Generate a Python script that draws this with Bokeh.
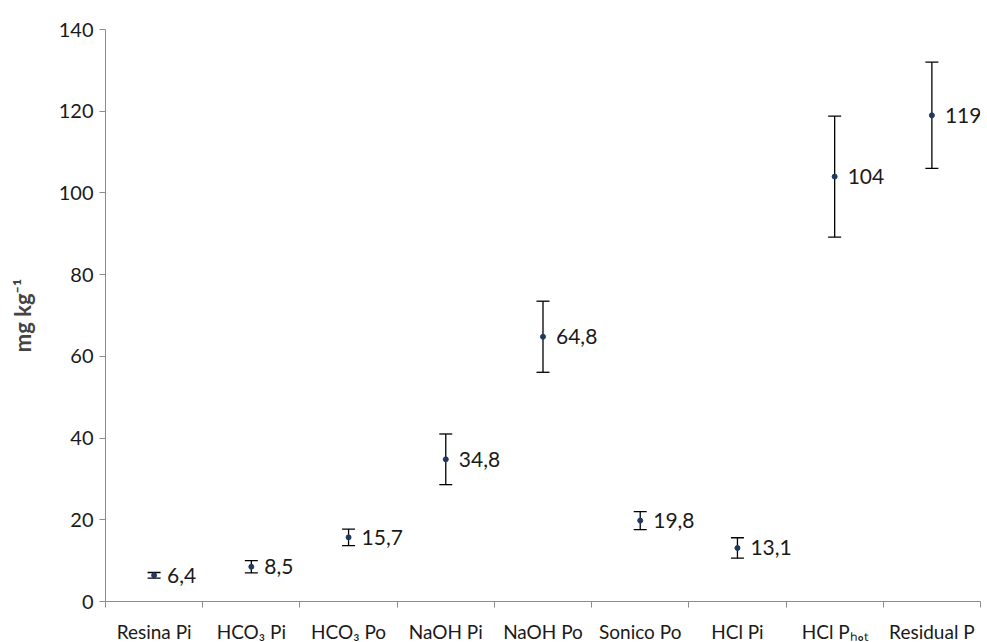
from bokeh.plotting import figure
from bokeh.models import ColumnDataSource, Whisker, TeeHead, LabelSet, FixedTicker, Range1d
from bokeh.core.properties import value
from bokeh.embed import file_html
from bokeh.resources import INLINE

categories = ["Resina Pi", "HCO\u2083 Pi", "HCO\u2083 Po", "NaOH Pi", "NaOH Po",
              "Sonico Po", "HCl Pi", "HCl P\u2095\u2092\u209c", "Residual P"]
means = [6.4, 8.5, 15.7, 34.8, 64.8, 19.8, 13.1, 104, 119]
errors = [0.7, 1.5, 2.0, 6.2, 8.7, 2.2, 2.5, 14.8, 13.0]
value_labels = ["6,4", "8,5", "15,7", "34,8", "64,8", "19,8", "13,1", "104", "119"]
y_ticks = [0, 20, 40, 60, 80, 100, 120, 140]

FONT = "Lato"

xs = [i + 0.5 for i in range(len(categories))]
src = ColumnDataSource(dict(
    x=xs, y=means,
    upper=[m + e for m, e in zip(means, errors)],
    lower=[m - e for m, e in zip(means, errors)],
    lab=value_labels,
))

p = figure(width=982, height=640, frame_width=875, frame_height=572,
           output_backend="svg", toolbar_location=None,
           x_range=Range1d(0, len(categories)), y_range=Range1d(0, 140),
           min_border_left=105, min_border_top=29, min_border_right=2, min_border_bottom=39)
p.outline_line_color = None
p.grid.visible = False
p.background_fill_color = "white"
p.border_fill_color = "white"

w = Whisker(source=src, base="x", upper="upper", lower="lower", dimension="height",
            line_color="black", line_width=1.3,
            upper_head=TeeHead(size=13, line_color="black", line_width=1.3),
            lower_head=TeeHead(size=13, line_color="black", line_width=1.3))
p.add_layout(w)
p.scatter("x", "y", source=src, size=5, color="#1f3a60")

labels = LabelSet(x="x", y="y", text="lab", source=src, x_offset=13, y_offset=0,
                  text_baseline="middle", text_font=value(FONT), text_font_size="21px",
                  text_color="#1a1a1a")
p.add_layout(labels)

# x axis: labels at category centres, tick marks at boundaries
xa = p.xaxis[0]
xa.ticker = FixedTicker(ticks=xs, minor_ticks=list(range(len(categories) + 1)))
xa.major_label_overrides = {x: c for x, c in zip(xs, categories)}
xa.major_tick_out = 0
xa.major_tick_in = 0
xa.minor_tick_out = 6
xa.minor_tick_in = 0
xa.minor_tick_line_color = "#8c8c8c"
xa.axis_line_color = "#8c8c8c"
xa.major_label_standoff = 12
xa.major_label_text_font = FONT
xa.major_label_text_font_size = "19px"
xa.major_label_text_color = "#1a1a1a"

ya = p.yaxis[0]
ya.ticker = FixedTicker(ticks=y_ticks)
ya.minor_tick_line_color = None
ya.major_tick_out = 6
ya.major_tick_in = 0
ya.major_tick_line_color = "#8c8c8c"
ya.axis_line_color = "#8c8c8c"
ya.major_label_standoff = 6
ya.major_label_text_font = FONT
ya.major_label_text_font_size = "20px"
ya.major_label_text_color = "#1a1a1a"
ya.axis_label = "mg kg\u207b\u00b9"
ya.axis_label_text_font = FONT
ya.axis_label_text_font_style = "bold"
ya.axis_label_text_font_size = "22px"
ya.axis_label_standoff = 20

open("out.html", "w").write(file_html(p, INLINE))
